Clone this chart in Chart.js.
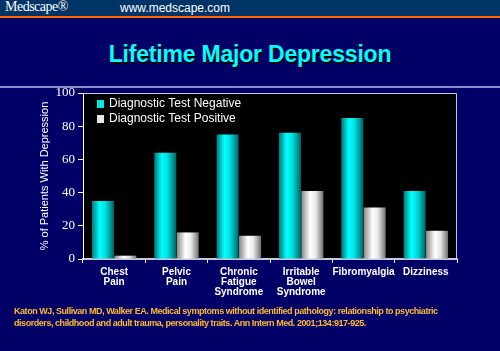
<!DOCTYPE html>
<html>
<head>
<meta charset="utf-8">
<script src="https://cdn.jsdelivr.net/npm/chart.js@4"></script>
<style>
  body { margin: 0; width: 500px; height: 351px; background: #000066; overflow: hidden; position: relative; font-family: "Liberation Sans", Arial, sans-serif; }
  #hdr { position: absolute; left: 0; top: 0; width: 500px; height: 16px; background: #003366; border-bottom: 2px solid #ff6600; }
  #logo { position: absolute; left: 5px; top: -1px; color: #fff; font: 14px "Liberation Serif", serif; letter-spacing: -0.5px; }
  #url { position: absolute; left: 120px; top: 1px; color: #fff; font: 12px "Liberation Sans", sans-serif; }
  #title { position: absolute; left: 0; top: 41px; width: 500px; text-align: center; color: #00ffff; font: bold 23px "Liberation Sans Narrow", sans-serif; letter-spacing: -0.2px; text-shadow: 1px 2px 0 #000; }
  #sep { position: absolute; left: 0; top: 86px; width: 500px; height: 2px; background: #8a8acc; }
  #ref { position: absolute; left: 14px; top: 305px; color: #ffbb33; font: bold 9px "Liberation Sans Narrow", sans-serif; letter-spacing: -0.45px; line-height: 12px; white-space: nowrap; }
  #wrap { position: absolute; left: 0; top: 0; width: 500px; height: 351px; }
</style>
</head>
<body>
<div id="hdr"><span id="logo">Medscape®</span><span id="url">www.medscape.com</span></div>
<div id="title">Lifetime Major Depression</div>
<div id="sep"></div>
<div id="wrap"><canvas id="c" width="500" height="351"></canvas></div>
<div id="ref">Katon WJ, Sullivan MD, Walker EA. Medical symptoms without identified pathology: relationship to psychiatric<br>disorders, childhood and adult trauma, personality traits. Ann Intern Med. 2001;134:917-925.</div>
<script>
const categories = [
  ["Chest", "Pain"],
  ["Pelvic", "Pain"],
  ["Chronic", "Fatigue", "Syndrome"],
  ["Irritable", "Bowel", "Syndrome"],
  ["Fibromyalgia"],
  ["Dizziness"]
];
const testNegative = [35, 64, 75, 76, 85, 41];
const testPositive = [2, 16, 14, 41, 31, 17];
const yTicks = [0, 20, 40, 60, 80, 100];

const cyanStops = [[0, "#007a7a"], [0.35, "#00ffff"], [0.6, "#00e0e0"], [1, "#006666"]];
const whiteStops = [[0, "#888888"], [0.4, "#ffffff"], [0.65, "#e8e8e8"], [1, "#707070"]];

// cylinder look: horizontal gradient across each bar
const barShade = {
  id: "barShade",
  beforeDatasetsDraw(chart) {
    const ctx = chart.ctx;
    chart.data.datasets.forEach((ds, i) => {
      const stops = i === 0 ? cyanStops : whiteStops;
      chart.getDatasetMeta(i).data.forEach(bar => {
        const x0 = bar.x - bar.width / 2;
        const g = ctx.createLinearGradient(x0, 0, x0 + bar.width, 0);
        stops.forEach(s => g.addColorStop(s[0], s[1]));
        bar.options = Object.assign({}, bar.options, { backgroundColor: g });
      });
    });
  }
};

const plotBg = {
  id: "plotBg",
  beforeDraw(chart) {
    const { ctx, chartArea: a } = chart;
    ctx.save();
    ctx.fillStyle = "#000000";
    ctx.fillRect(a.left, a.top, a.right - a.left, a.bottom - a.top);
    ctx.strokeStyle = "#c8c8e0";
    ctx.lineWidth = 1;
    ctx.beginPath();
    ctx.moveTo(a.left, a.top + 0.5);
    ctx.lineTo(a.right - 0.5, a.top + 0.5);
    ctx.lineTo(a.right - 0.5, a.bottom);
    ctx.stroke();
    ctx.restore();
  }
};

const innerLegend = {
  id: "innerLegend",
  afterDraw(chart) {
    const { ctx, chartArea: a } = chart;
    const colors = ["#00e8e8", "#e8e8e8"];
    ctx.save();
    ctx.font = "12px 'Liberation Sans Narrow', sans-serif";
    ctx.textBaseline = "middle";
    chart.data.datasets.forEach((ds, i) => {
      const y = a.top + 11 + i * 15;
      ctx.fillStyle = colors[i];
      ctx.fillRect(a.left + 14, y - 4, 7, 8);
      ctx.fillStyle = "#ffffff";
      ctx.fillText(ds.label, a.left + 26, y);
    });
    ctx.restore();
  }
};

new Chart(document.getElementById("c"), {
  type: "bar",
  data: {
    labels: categories,
    datasets: [
      { label: "Diagnostic Test Negative", data: testNegative, backgroundColor: "#00e8e8" },
      { label: "Diagnostic Test Positive", data: testPositive, backgroundColor: "#e8e8e8" }
    ]
  },
  options: {
    responsive: false,
    animation: false,
    events: [],
    layout: { padding: { left: 38, right: 43, top: 93, bottom: 41 } },
    plugins: { legend: { display: false }, tooltip: { enabled: false } },
    datasets: { bar: { categoryPercentage: 0.72, barPercentage: 0.98 } },
    scales: {
      x: {
        grid: { display: true, drawOnChartArea: false, color: "#ffffff", tickLength: 4, offset: true },
        border: { color: "#c8c8e0", width: 2 },
        ticks: { color: "#ffffff", font: { family: "Liberation Sans", weight: "bold", size: 10, lineHeight: 1.0 }, maxRotation: 0, autoSkip: false, padding: 4 },
        afterFit(s) { s.height = 51; }
      },
      y: {
        min: 0, max: 100,
        afterBuildTicks(s) { s.ticks = yTicks.map(v => ({ value: v })); },
        grid: { display: true, drawOnChartArea: false, color: "#ffffff", tickLength: 5 },
        border: { color: "#ffffff", width: 1 },
        ticks: { color: "#ffffff", font: { family: "Liberation Sans Narrow", size: 13 }, padding: 3 },
        title: { display: true, text: "% of Patients With Depression", color: "#ffffff", font: { family: "Liberation Sans", size: 11 }, padding: { top: 0, bottom: 0 } },
        afterFit(s) { s.width = 45; }
      }
    }
  },
  plugins: [plotBg, barShade, innerLegend]
});
</script>
</body>
</html>
